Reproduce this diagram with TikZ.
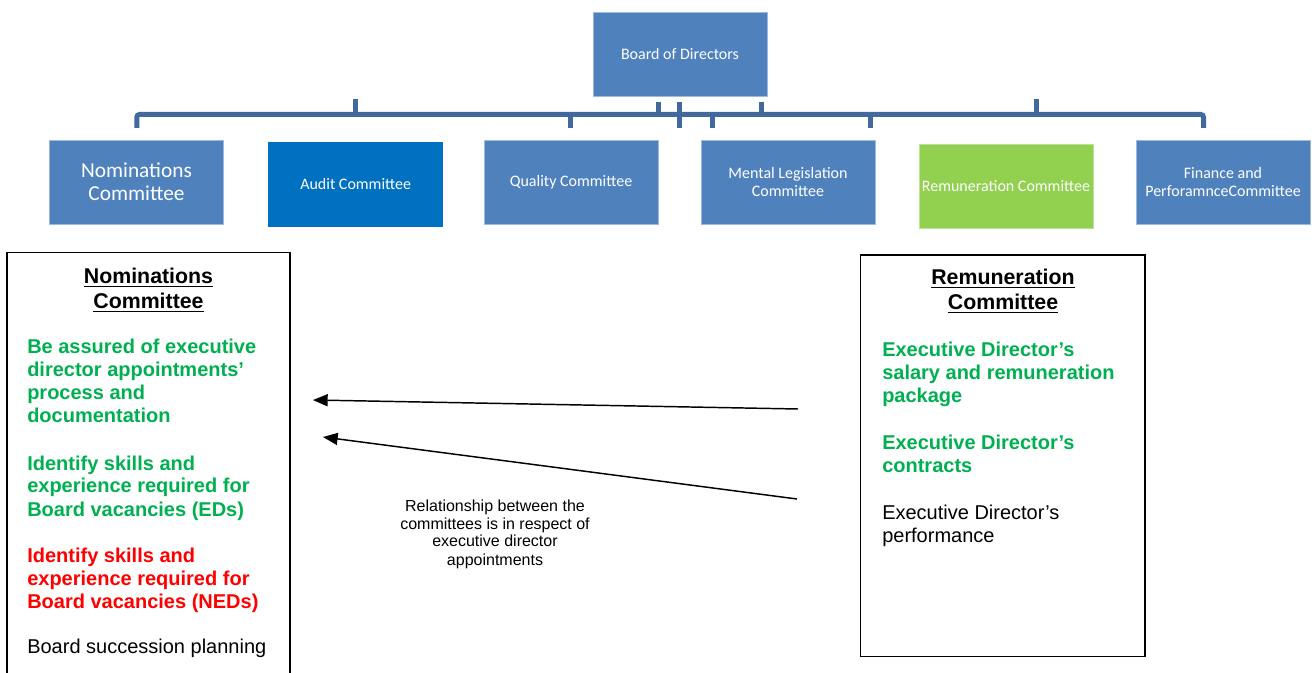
\documentclass[tikz,border=0pt]{standalone}
\usepackage{fontspec}
\setmainfont{Liberation Sans}
\newfontfamily\calibri{Carlito}
\usepackage{tikz}
\usetikzlibrary{arrows.meta}

\definecolor{boardblue}{HTML}{4F81BD}
\definecolor{auditblue}{HTML}{0070C0}
\definecolor{remgreen}{HTML}{92D050}
\definecolor{busblue}{HTML}{41699B}
\definecolor{itemgreen}{HTML}{00B050}
\definecolor{itemred}{HTML}{FF0000}

\begin{document}
\begin{tikzpicture}[x=0.75pt,y=-0.75pt,
		orgbox/.style={fill=boardblue, draw=boardblue!55!white, line width=0.5pt,
			text=white, minimum width=130.5pt, minimum height=63pt, inner sep=0pt,
			align=center, font=\calibri\fontsize{12}{13.5}\selectfont},
		bus/.style={draw=busblue, line width=3.75pt},
		dutybox/.style={draw=black, line width=1.1pt},
		headtext/.style={anchor=base, align=center, inner sep=0pt, font=\bfseries\fontsize{16}{18.75}\selectfont},
		itemtext/.style={anchor=base west, align=left, inner sep=0pt, font=\fontsize{15}{17.25}\selectfont},
		relarrow/.style={line width=1.1pt, -{Triangle[length=11pt,width=9pt]}}]
		\useasboundingbox (0,0) rectangle (1314,673);
		\clip (0,0) rectangle (1314,673);
%		\draw[help lines] (0,0) grid[step=50] (1314,673);
		\path (136.8,128) coordinate (busleft);
		\path (1203.5,128) coordinate (busright);
		\path (798,409) coordinate (remupper);
		\path (313,400) coordinate (nomupper);
		\path (797,499) coordinate (remlower);
		\path (323,437) coordinate (nomlower);

		% organisation chart
		\node[orgbox] (board) at (680,54.5) {Board of Directors};
		\node[orgbox, font=\calibri\fontsize{16}{17.25}\selectfont] (nomcom) at (136.5,182) {Nominations\\Committee};
		\node[orgbox, fill=auditblue, draw=auditblue] (audcom) at (355.7,184) {Audit Committee};
		\node[orgbox] (qualcom) at (571,182) {Quality Committee};
		\node[orgbox] (mentcom) at (788,182) {Mental Legislation\\Committee};
		\node[orgbox, fill=remgreen, draw=remgreen!60!white] (remcom) at (1006,186) {Remuneration Committee};
		\node[orgbox] (fincom) at (1223,182) {Finance and\\PerforamnceCommittee};

		\draw[bus, rounded corners=2pt] (busleft) -- (136.8,114.5) -- (1203.5,114.5) -- (busright);
		\foreach \x/\y in {355.5/99, 658.5/102, 761/102, 1036/99}
			\draw[bus] (\x,\y) -- (\x,115);
		\foreach \x in {570.5, 712.7, 870}
			\draw[bus] (\x,114) -- (\x,128);
		\draw[bus] (679.7,102) -- (679.7,128);

		% committee duties (nodes sit on the baseline of their last line)
		\draw[dutybox] (7,252.7) rectangle (290,700);
		\node[headtext] (nomhead) at (148.5,309) {\underline{Nominations}\\\underline{Committee}};
		\node[itemtext, text=itemgreen, font=\bfseries\fontsize{15}{17.25}\selectfont] (nomassure) at (27,423)
			{Be assured of executive\\director appointments’\\process and\\documentation};
		\node[itemtext, text=itemgreen, font=\bfseries\fontsize{15}{17.25}\selectfont] (nomeds) at (27,516)
			{Identify skills and\\experience required for\\Board vacancies (EDs)};
		\node[itemtext, text=itemred, font=\bfseries\fontsize{15}{17.25}\selectfont] (nomneds) at (27,608)
			{Identify skills and\\experience required for\\Board vacancies (NEDs)};
		\node[itemtext] (nomplan) at (27,653) {Board succession planning};

		\draw[dutybox] (860.7,255) rectangle (1145,656.7);
		\node[headtext] (remhead) at (1003,310) {\underline{Remuneration}\\\underline{Committee}};
		\node[itemtext, text=itemgreen, font=\bfseries\fontsize{15}{17.25}\selectfont] (remsalary) at (882,403)
			{Executive Director’s\\salary and remuneration\\package};
		\node[itemtext, text=itemgreen, font=\bfseries\fontsize{15}{17.25}\selectfont] (remcontract) at (882,473)
			{Executive Director’s\\contracts};
		\node[itemtext] (remperf) at (882,542) {Executive Director’s\\performance};

		\draw[relarrow] (remupper) -- (nomupper);
		\draw[relarrow] (remlower) -- (nomlower);
		\node[anchor=base, align=center, inner sep=0pt, font=\fontsize{12}{13.5}\selectfont] (relnote) at (495,565)
			{Relationship between the\\committees is in respect of\\executive director\\appointments};
	\end{tikzpicture}
\end{document}
